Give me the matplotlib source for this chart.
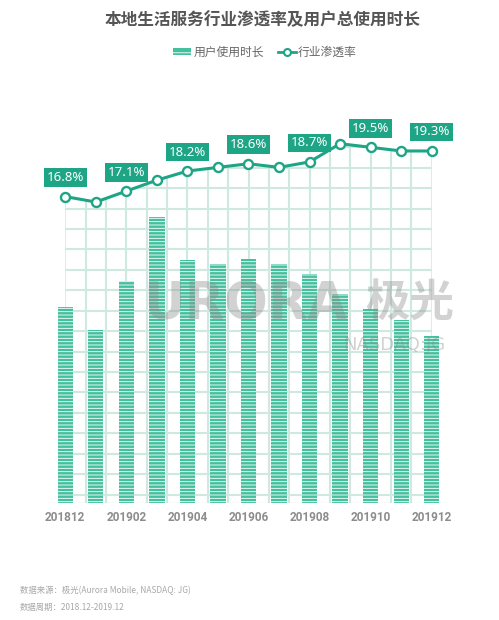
import numpy as np
import matplotlib
matplotlib.use('Agg')
from matplotlib import pyplot as plt
from matplotlib.patches import Polygon, Patch
from matplotlib.lines import Line2D

plt.rcParams['font.family'] = ['Noto Sans CJK SC', 'DejaVu Sans']
plt.rcParams['hatch.linewidth'] = 0.6

# Data
months = ['201812', '201901', '201902', '201903', '201904', '201905', '201906',
          '201907', '201908', '201909', '201910', '201911', '201912']
usage_time = [19.6, 17.3, 22.2, 28.6, 24.3, 23.9, 24.4, 23.9, 22.9, 20.9, 19.4, 18.3, 16.7]
penetration = [16.8, 16.5, 17.1, 17.7, 18.2, 18.4, 18.6, 18.4, 18.7, 19.7, 19.5, 19.3, 19.3]
labelled = [0, 2, 4, 6, 8, 10, 12]

teal = '#1ea586'
bar_col = '#45c09e'
grid_col = '#cfe9e0'
text_grey = '#8c8c8c'

fig = plt.figure(figsize=(4.99, 6.2), dpi=100)
ax = fig.add_axes([50 / 499, 117 / 620, 397 / 499, 373 / 620])
ax2 = ax.twinx()

x = np.arange(len(months))
ax.set_xlim(-0.5, len(months) - 0.5)
ax.set_ylim(0, 37.3)
ax2.set_ylim(0, 20.45)

# bars with white horizontal stripes
ax.bar(x, usage_time, width=0.5, color=bar_col, edgecolor='white',
       linewidth=0, hatch='-----', zorder=3)

# grid clipped to the area under the line
clip = Polygon(list(zip(x, penetration)) + [(x[-1], 0), (x[0], 0)],
               closed=True, transform=ax2.transData)
gx = np.arange(0, 18.5) * 2 / 3
gy = 0.84 + np.arange(0, 18) * 2.043
vl = ax.vlines(gx, 0, 37.3, color=grid_col, lw=1.5, zorder=1)
hl = ax.hlines(gy, 0, x[-1], color=grid_col, lw=1.5, zorder=1)
vl.set_clip_path(clip)
hl.set_clip_path(clip)
ax.axhline(0, color='#e6e6e6', lw=1, zorder=2)

# penetration line
ax2.plot(x, penetration, color=teal, lw=2.2, marker='o', ms=6.5,
         mfc='white', mec=teal, mew=1.7, zorder=5)
for i in labelled:
    ax2.annotate(f'{penetration[i]}%', (x[i], penetration[i]),
                 xytext=(0, 19), textcoords='offset pixels',
                 ha='center', va='center', color='white', fontsize=9.5,
                 fontweight='bold', family=['Noto Sans', 'DejaVu Sans'],
                 bbox=dict(boxstyle='square,pad=0.22', fc=teal, ec='none'),
                 zorder=6)

for a in (ax, ax2):
    for s in a.spines.values():
        s.set_visible(False)
    a.set_yticks([])
ax.set_xticks(x[::2])
ax.set_xticklabels(months[::2], color=text_grey, fontsize=8.5,
                   fontweight='bold', family=['Roboto', 'DejaVu Sans'])
ax.tick_params(axis='x', length=0, pad=6)

# watermark
wm = dict(color='#8a8a8a', alpha=0.38, ha='center', va='center', zorder=10)
fig.text(245 / 499, 1 - 305 / 620, 'URORA', fontsize=37, fontweight='bold',
         family=['DejaVu Sans'], **wm)
fig.text(410 / 499, 1 - 303 / 620, '极光', fontsize=32, fontweight='bold', **wm)
fig.text(394 / 499, 1 - 345 / 620, 'NASDAQ:JG', fontsize=13,
         family=['DejaVu Sans'], **wm)

# title and legend
fig.text(263 / 499, 1 - 20 / 620, '本地生活服务行业渗透率及用户总使用时长',
         ha='center', va='center', fontsize=12, fontweight='bold', color='#555555')
handles = [Patch(facecolor=bar_col, edgecolor='white', linewidth=0, hatch='---'),
           Line2D([], [], color=teal, lw=2, marker='o', ms=5, mfc='white', mec=teal, mew=1.5)]
fig.legend(handles, ['用户使用时长', '行业渗透率'], loc='center',
           bbox_to_anchor=(265 / 499, 1 - 52 / 620), ncol=2, frameon=False,
           fontsize=8.5, handlelength=1.5, handleheight=0.5, handletextpad=0.2,
           columnspacing=1.2, labelcolor='#666666')

# footer
fig.text(20 / 499, 1 - 591 / 620, '数据来源：极光(Aurora Mobile, NASDAQ: JG)',
         fontsize=6, color='#a8a8a8', va='center', style='italic')
fig.text(20 / 499, 1 - 607 / 620, '数据周期：2018.12-2019.12',
         fontsize=6, color='#a8a8a8', va='center', style='italic')

fig.savefig('out.png', dpi=100)
